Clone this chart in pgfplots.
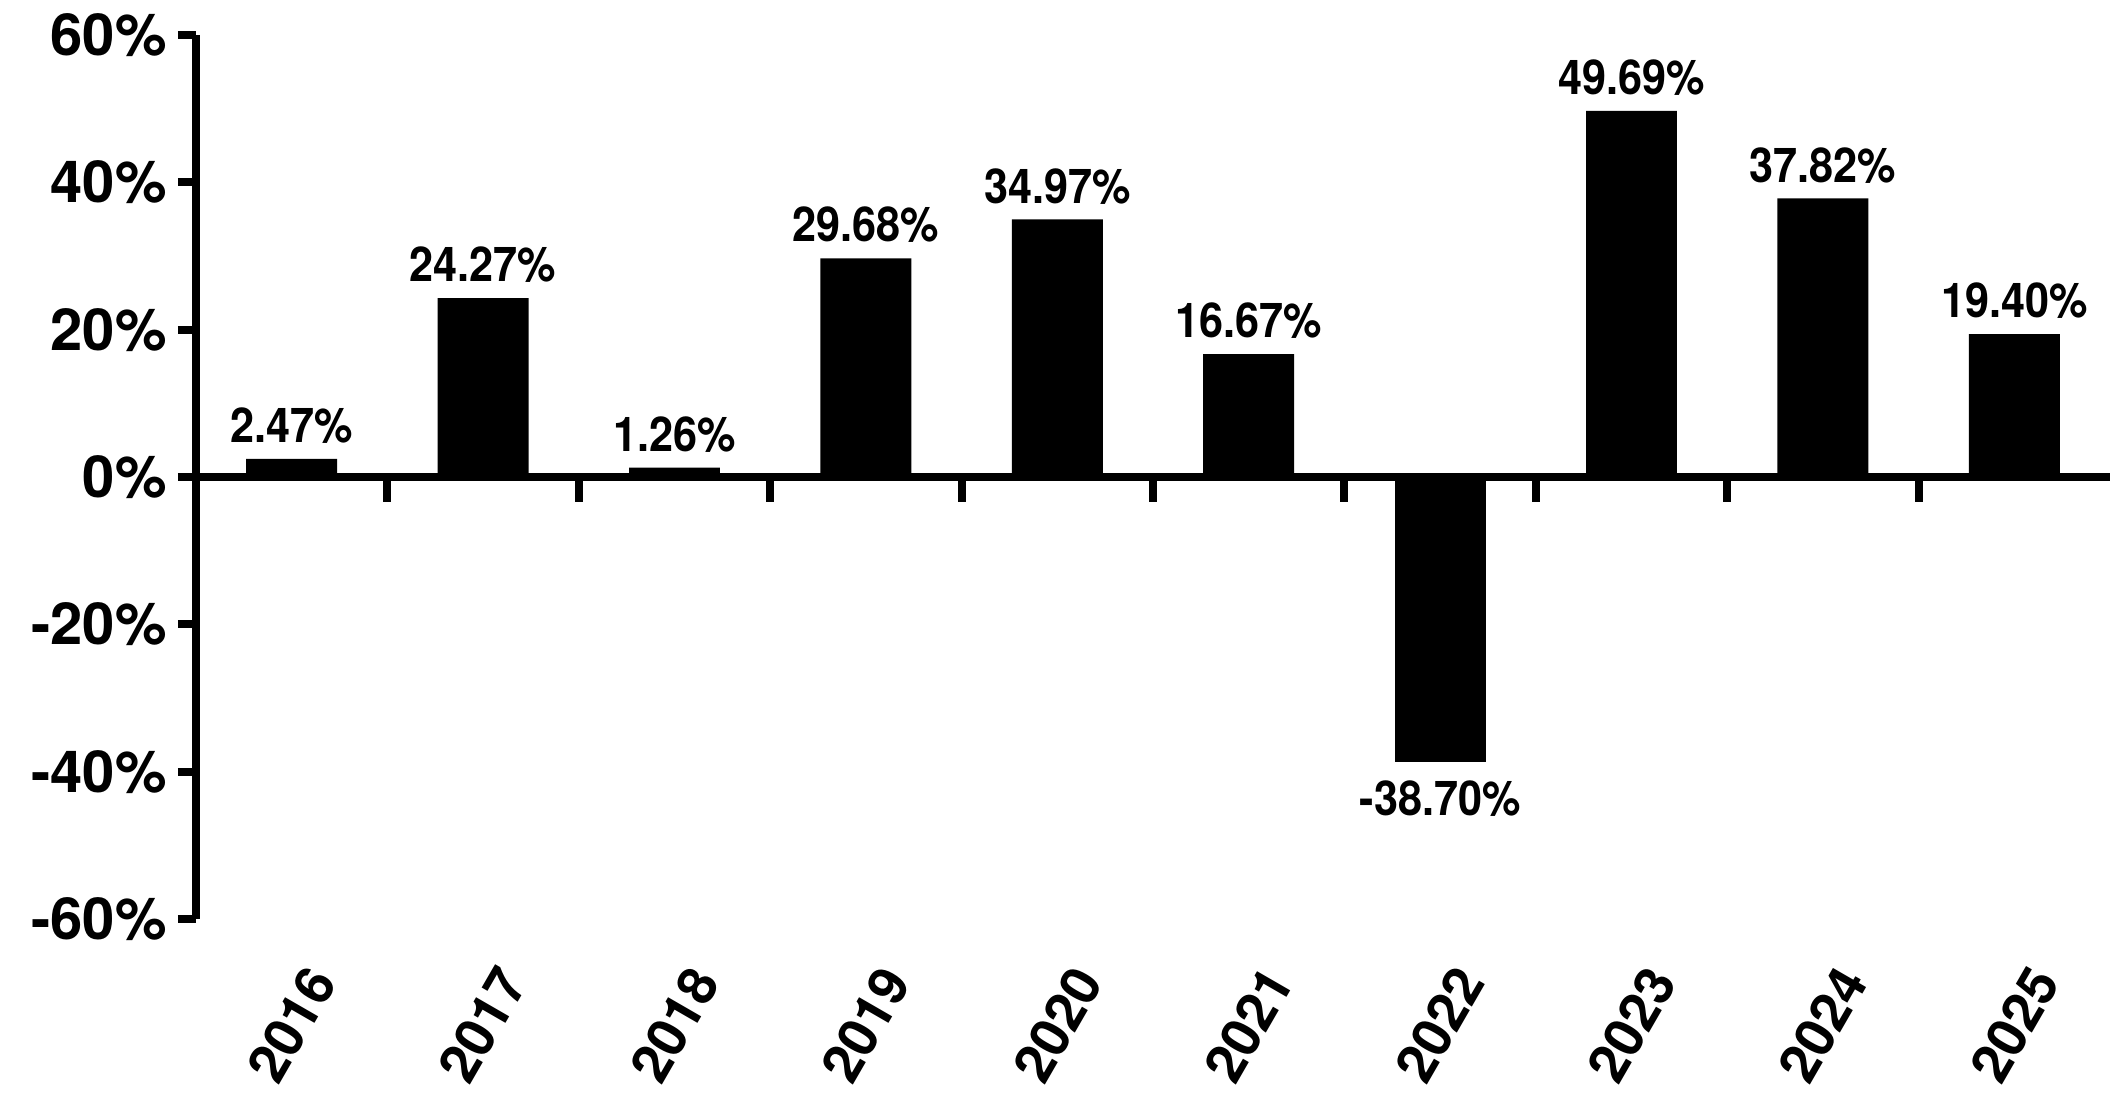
\documentclass[border=0pt]{standalone}
\usepackage{pgfplots}
\pgfplotsset{compat=1.18}
\usepackage{fontspec}
\setmainfont{TeX Gyre Heros}
\newfontfamily\condfont[FakeStretch=0.9]{TeX Gyre Heros}

\pgfplotstableread{
x y lab
0 2.47 2.47
1 24.27 24.27
2 1.26 1.26
3 29.68 29.68
4 34.97 34.97
5 16.67 16.67
7 49.69 49.69
8 37.82 37.82
9 19.40 19.40
}\returnspos

\pgfplotstableread{
x y lab
6 -38.70 -38.70
}\returnsneg

\pgfplotsset{
  common/.style={
    scale only axis, width=957pt, height=442pt,
    xmin=-0.5, xmax=9.5, ymin=-60, ymax=60,
  }
}

\begin{document}
\begin{tikzpicture}
\begin{axis}[
  common, name=main,
  axis y line=left, axis x line=middle,
  axis line style={line width=4pt, -},
  xtick=\empty,
  ytick={-60,-40,-20,0,20,40,60},
  yticklabels={-60\%,-40\%,-20\%,0\%,20\%,40\%,60\%},
  ytick align=outside,
  major tick length=9pt,
  tick style={line width=4pt, black},
  yticklabel style={font=\fontsize{29}{30}\selectfont\bfseries, inner sep=0pt, xshift=-5.5pt},
  ybar, bar width=0.475,
  point meta=explicit symbolic,
  nodes near coords={\pgfplotspointmeta\%},
  every node near coord/.append style={font=\condfont\bfseries\fontsize{24}{26}\selectfont, inner sep=7.5pt, black},
]
\addplot[fill=black, draw=none, bar shift=0pt,
  every node near coord/.append style={anchor=south}] table[x=x, y=y, meta=lab] {\returnspos};
\addplot[fill=black, draw=none, bar shift=0pt,
  every node near coord/.append style={anchor=north, inner sep=9pt}] table[x=x, y=y, meta=lab] {\returnsneg};
\end{axis}
\begin{axis}[
  common,
  hide y axis, axis x line=middle,
  axis line style={line width=4pt, -},
  xtick={0.5,1.5,...,9.5},
  xticklabels={},
  xtick align=outside,
  major tick length=12.5pt,
  tick style={line width=4pt, black},
]
\end{axis}
\begin{axis}[
  common,
  hide y axis, axis x line*=bottom,
  x axis line style={draw=none},
  xtick={0,...,9},
  xticklabels={2016,2017,2018,2019,2020,2021,2022,2023,2024,2025},
  xtick align=inside,
  major tick length=0pt,
  xtick style={draw=none},
  xticklabel style={font=\fontsize{27}{28}\selectfont\bfseries, anchor=center, yshift=-53pt, rotate=60},
]
\end{axis}
\path ([xshift=-98pt,yshift=-86.5pt]main.south west) rectangle ([xshift=3.5pt,yshift=17.5pt]main.north east);
\end{tikzpicture}
\end{document}
